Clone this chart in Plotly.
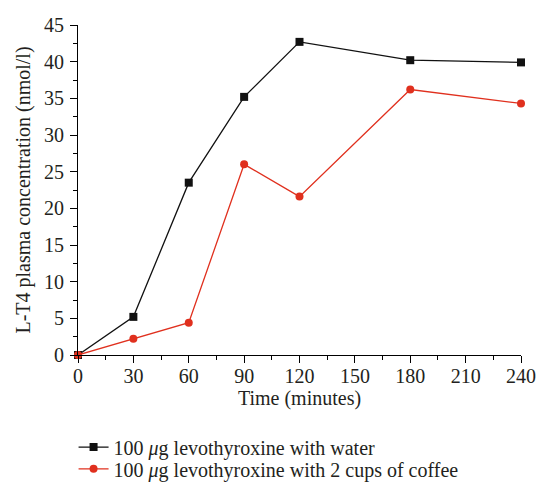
import plotly.graph_objects as go

time_min = [0, 30, 60, 90, 120, 180, 240]
water = [0, 5.2, 23.5, 35.2, 42.7, 40.2, 39.9]
coffee = [0, 2.2, 4.4, 26.0, 21.6, 36.2, 34.3]
x_ticks = [0, 30, 60, 90, 120, 150, 180, 210, 240]
y_ticks = [0, 5, 10, 15, 20, 25, 30, 35, 40, 45]

font_family = "Liberation Serif"
text_color = "#231f20"

fig = go.Figure()
fig.add_trace(go.Scatter(
    x=time_min, y=water, mode="lines+markers",
    name="100 <i>μ</i>g levothyroxine with water",
    line=dict(color="#111111", width=1.3),
    marker=dict(symbol="square", size=8, color="#111111"),
    cliponaxis=False, legend="legend",
))
fig.add_trace(go.Scatter(
    x=time_min, y=coffee, mode="lines+markers",
    name="100 <i>μ</i>g levothyroxine with 2 cups of coffee",
    line=dict(color="#e0301e", width=1.3),
    marker=dict(symbol="circle", size=8, color="#e0301e"),
    cliponaxis=False, legend="legend2",
))

axis_common = dict(
    showline=True, linecolor="black", linewidth=1,
    ticks="outside", tickcolor="black", ticklen=7, tickwidth=1,
    showgrid=False, zeroline=False, automargin=False,
    tickfont=dict(family=font_family, size=20, color=text_color),
)

fig.update_xaxes(
    range=[0, 240], tickvals=x_ticks, ticklabelstandoff=-4,
    minor=dict(ticks="outside", dtick=15, ticklen=4, tickcolor="black", tickwidth=1),
    title=dict(text="Time (minutes)", font=dict(family=font_family, size=20, color=text_color), standoff=0),
    **axis_common,
)
fig.update_yaxes(
    range=[0, 45], tickvals=y_ticks, ticklabelstandoff=2,
    minor=dict(ticks="outside", dtick=2.5, ticklen=4, tickcolor="black", tickwidth=1),
    title=dict(text="L-T4 plasma concentration (nmol/l)", font=dict(family=font_family, size=20, color=text_color), standoff=8),
    **axis_common,
)

legend_common = dict(
    xanchor="left", yanchor="middle",
    font=dict(family=font_family, size=20, color=text_color),
    itemwidth=30, bgcolor="rgba(0,0,0,0)",
)

fig.update_layout(
    width=537, height=482,
    margin=dict(l=78, r=16, t=25, b=127, autoexpand=False),
    plot_bgcolor="white", paper_bgcolor="white",
    showlegend=True,
    legend=dict(x=-0.01, y=-0.279, **legend_common),
    legend2=dict(x=-0.01, y=-0.345, **legend_common),
)

fig.write_html(
    "out.html",
    config={"displayModeBar": False},
    post_script="document.body.style.margin='0';document.body.style.overflow='hidden';",
)
